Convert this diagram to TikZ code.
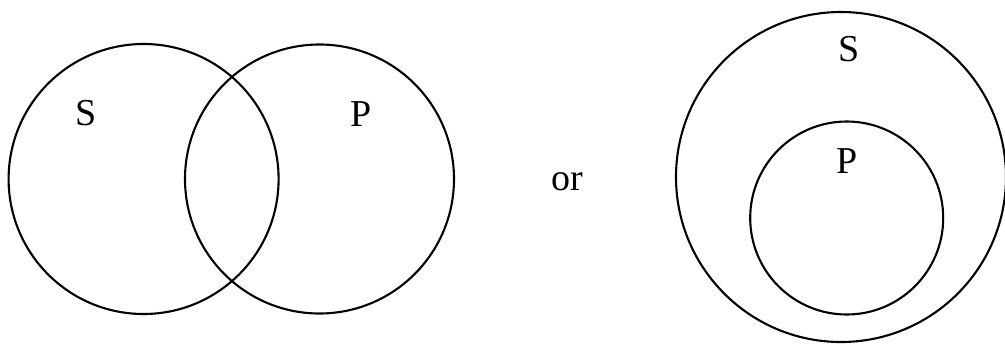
\documentclass[tikz,border=0pt]{standalone}
\usepackage{fontspec}
\setmainfont{Liberation Serif}

\begin{document}
\begin{tikzpicture}[x=1pt,y=-1pt,
  set/.style={draw,circle,line width=2.1pt,inner sep=0pt},
  lbl/.style={inner sep=0pt,font=\fontsize{38}{44}\selectfont}
]
\useasboundingbox (0,0) rectangle (1005,346);
% overlapping sets
\node[set,minimum size=270pt] (sl) at (143.6,179) {};
\node[set,minimum size=269pt] (pl) at (319.5,179) {};
\node[lbl] (sltxt) at (86,113) {S};
\node[lbl] (pltxt) at (361,114) {P};
% alternative
\node[lbl] (or) at (567,182) {or};
% nested sets
\node[set,minimum size=330pt] (sr) at (841,177) {};
\node[set,minimum size=193pt] (pr) at (846.7,218) {};
\node[lbl] (srtxt) at (849,49) {S};
\node[lbl] (prtxt) at (847,161) {P};
\end{tikzpicture}
\end{document}
